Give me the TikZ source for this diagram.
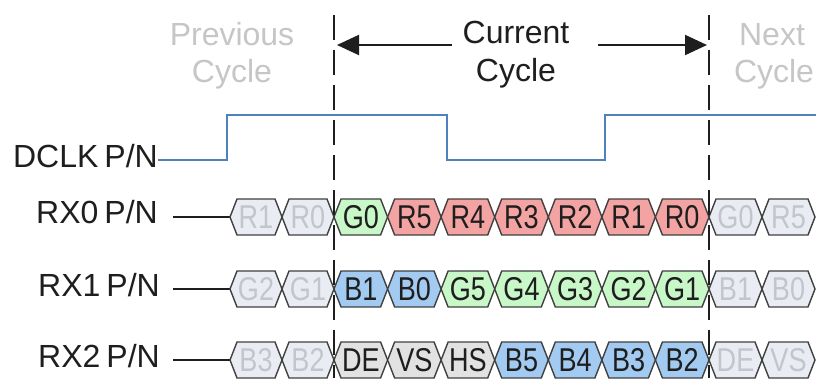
\documentclass[tikz,border=0pt]{standalone}
\usepackage{fontspec}
\usepackage{graphicx}
\setmainfont{Liberation Sans}
\usetikzlibrary{arrows.meta}
\definecolor{clkblue}{HTML}{4F81BD}
\definecolor{fadefill}{HTML}{E9EDF3}
\definecolor{fadetext}{HTML}{C2C6CC}
\definecolor{hdrgray}{HTML}{C6C6C6}
\definecolor{cg}{HTML}{C8F7C8}
\definecolor{cr}{HTML}{F4A3A3}
\definecolor{cb}{HTML}{A3CBF2}
\definecolor{cgr}{HTML}{E2E2E2}
\definecolor{ink}{HTML}{1E1E1E}
\newcommand\hexcell[7]{%
  \filldraw[cellline, fill=#4] (#1,#3) -- (#1+7,#3-18) -- (#2-7,#3-18) -- (#2,#3) -- (#2-7,#3+18) -- (#1+7,#3+18) -- cycle;
  \node[celltext, text=#5] (#7) at ({(#1+#2)/2},#3+11.5) {\scalebox{0.82}[1]{#6}};
}
\newcommand\lblsp{\hspace{6pt}}
\tikzset{
  cellline/.style={draw=ink!85, line width=1.4pt, line join=miter},
  celltext/.style={anchor=base, inner sep=0pt, font=\fontsize{33}{40}\selectfont},
  lbl/.style={anchor=base east, inner sep=0pt, text=ink, font=\fontsize{32}{38}\selectfont},
  hdr/.style={anchor=base, inner sep=0pt, font=\fontsize{32}{38}\selectfont},
  clk/.style={draw=clkblue, line width=2pt},
  lead/.style={draw=ink, line width=1.6pt},
  dashline/.style={draw=ink, line width=2.4pt, dash pattern=on 25pt off 10pt},
  bigarrow/.style={draw=ink, line width=2pt, -{Triangle[length=22pt,width=20pt]}}
}
\begin{document}
\begin{tikzpicture}[x=1pt,y=-1pt]
\useasboundingbox (0,0) rectangle (816,378);
\fill[white] (0,0) rectangle (816,378);
% headers
\node[hdr, text=hdrgray] (prev1) at (232,45) {Previous};
\node[hdr, text=hdrgray] (prev2) at (232,82) {Cycle};
\node[hdr, text=ink] (cur1) at (516,43) {Current};
\node[hdr, text=ink] (cur2) at (516,81) {Cycle};
\node[hdr, text=hdrgray] (next1) at (772,45) {Next};
\node[hdr, text=hdrgray] (next2) at (774,82) {Cycle};
\coordinate (la) at (452,45);
\coordinate (lt) at (337,45);
\coordinate (ra) at (598,45);
\coordinate (rt) at (707,45);
\draw[bigarrow] (la) -- (lt);
\draw[bigarrow] (ra) -- (rt);
% labels
\node[lbl] (dclk) at (158,167) {DCLK\lblsp P/N};
\node[lbl] (rx0) at (158,223) {RX0\lblsp P/N};
\node[lbl] (rx1) at (160,296) {RX1\lblsp P/N};
\node[lbl] (rx2) at (160,367) {RX2\lblsp P/N};
% clock
\draw[clk] (dclk.base east) ++(0,-7) coordinate (c0) -- (227,160) -- (227,115) -- (447,115) -- (447,160) -- (605,160) -- (605,115) -- (816,115);
% lead lines
\coordinate (l0a) at (173,217); \coordinate (l0b) at (230,217);
\coordinate (l1a) at (173,289); \coordinate (l1b) at (230,289);
\coordinate (l2a) at (173,360); \coordinate (l2b) at (230,360);
\draw[lead] (l0a) -- (l0b);
\draw[lead] (l1a) -- (l1b);
\draw[lead] (l2a) -- (l2b);
% RX0
\foreach \xa/\xb/\t/\f/\tc [count=\i] in {
  230/282/R1/fadefill/fadetext, 282/334/R0/fadefill/fadetext,
  334/387.6/G0/cg/ink, 387.6/441.1/R5/cr/ink, 441.1/494.7/R4/cr/ink,
  494.7/548.3/R3/cr/ink, 548.3/601.9/R2/cr/ink, 601.9/655.4/R1/cr/ink,
  655.4/709/R0/cr/ink, 709/762/G0/fadefill/fadetext, 762/815/R5/fadefill/fadetext}
  {\hexcell{\xa}{\xb}{217}{\f}{\tc}{\t}{r0c\i}}
% RX1
\foreach \xa/\xb/\t/\f/\tc [count=\i] in {
  230/282/G2/fadefill/fadetext, 282/334/G1/fadefill/fadetext,
  334/387.6/B1/cb/ink, 387.6/441.1/B0/cb/ink, 441.1/494.7/G5/cg/ink,
  494.7/548.3/G4/cg/ink, 548.3/601.9/G3/cg/ink, 601.9/655.4/G2/cg/ink,
  655.4/709/G1/cg/ink, 709/762/B1/fadefill/fadetext, 762/815/B0/fadefill/fadetext}
  {\hexcell{\xa}{\xb}{289}{\f}{\tc}{\t}{r1c\i}}
% RX2
\foreach \xa/\xb/\t/\f/\tc [count=\i] in {
  230/282/B3/fadefill/fadetext, 282/334/B2/fadefill/fadetext,
  334/387.6/DE/cgr/ink, 387.6/441.1/VS/cgr/ink, 441.1/494.7/HS/cgr/ink,
  494.7/548.3/B5/cb/ink, 548.3/601.9/B4/cb/ink, 601.9/655.4/B3/cb/ink,
  655.4/709/B2/cb/ink, 709/762/DE/fadefill/fadetext, 762/815/VS/fadefill/fadetext}
  {\hexcell{\xa}{\xb}{360}{\f}{\tc}{\t}{r2c\i}}
% cycle boundaries
\coordinate (d1a) at (334,15); \coordinate (d1b) at (334,378);
\coordinate (d2a) at (709,15); \coordinate (d2b) at (709,378);
\draw[dashline] (d1a) -- (d1b);
\draw[dashline] (d2a) -- (d2b);
\end{tikzpicture}
\end{document}
